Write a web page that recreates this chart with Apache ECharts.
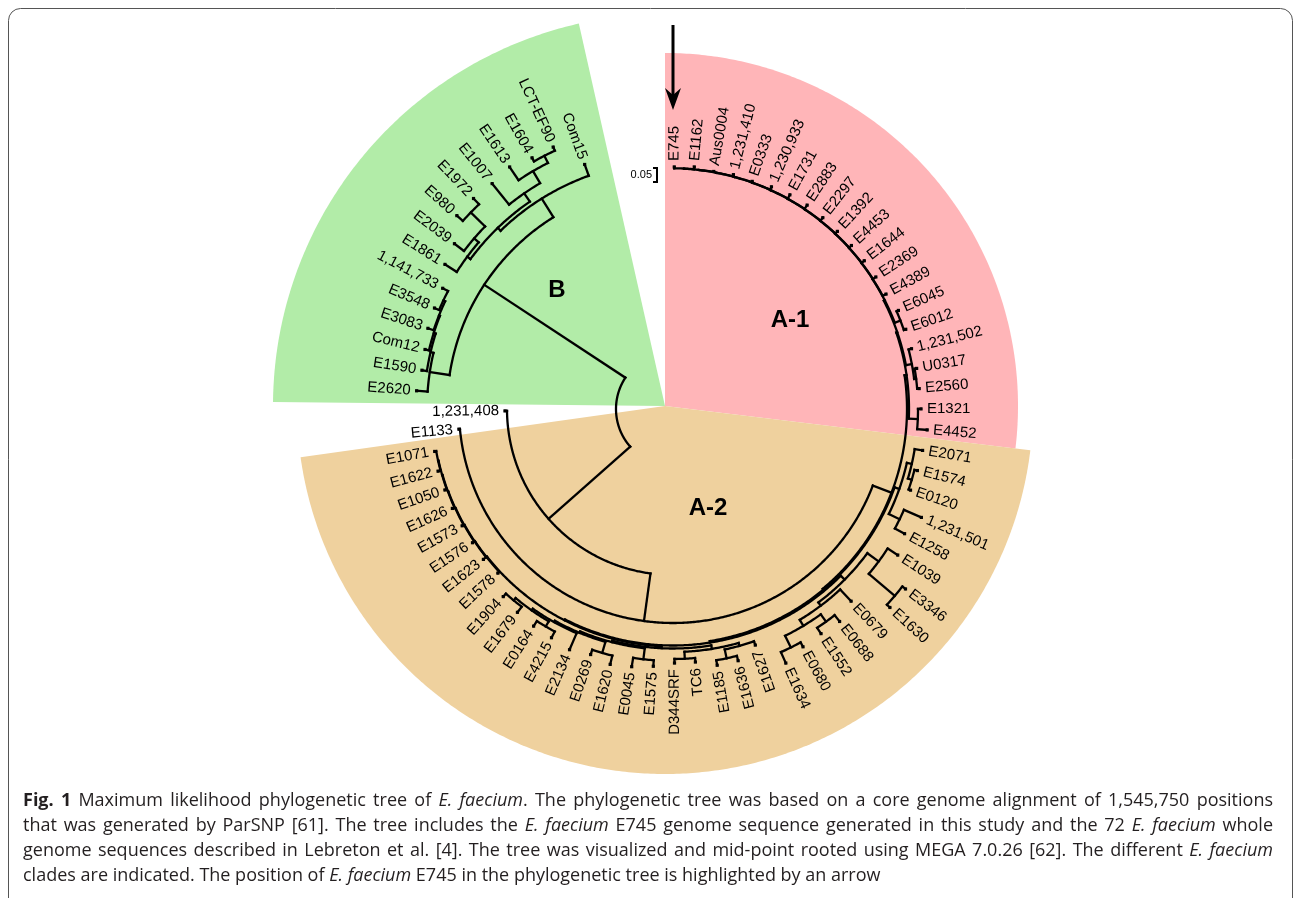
<!DOCTYPE html>
<html><head><meta charset="utf-8">
<script src="https://cdn.jsdelivr.net/npm/echarts/dist/echarts.min.js"></script>
<style>html,body{margin:0;padding:0;background:#fff;overflow:hidden}#c{width:1293px;height:898px}</style>
</head><body><div id="c"></div>
<script>
// ---------- DATA ----------
// leaves in clockwise order starting at the top (E745)
const leaves = [
 'E745','E1162','Aus0004','1,231,410','E0333','1,230,933','E1731','E2883','E2297','E1392',
 'E4453','E1644','E2369','E4389','E6045','E6012','1,231,502','U0317','E2560','E1321','E4452',
 'E2071','E1574','E0120','1,231,501','E1258','E1039','E3346','E1630','E0679','E0688',
 'E1552','E0680','E1634','E1627','E1636','E1185','TC6','D344SRF','E1575','E0045',
 'E1620','E0269','E2134','E4215','E0164','E1679','E1904','E1578','E1623','E1576',
 'E1573','E1626','E1050','E1622','E1071','E1133','1,231,408',
 'E2620','E1590','Com12','E3083','E3548','1,141,733','E1861','E2039','E980','E1972',
 'E1007','E1613','E1604','LCT-EF90','Com15'
];
// distance of each tip from the root (tree units, 0.05 = 14 units)
const tipDepth = [
 242,243,241,242,241,243,244,244,243,242,
 242,242,242,242,246,246,246,247,247,248,255,
 253,252,251,271,263,268,294,294,262,270,
 269,271,278,250,260,260,254,254,258,261,
 263,259,262,259,258,256,253,240,242,241,
 241,242,242,243,242,215,168,
 257,254,255,258,259,260,270,274,290,290,
 289,292,288,288,260
];
// internal nodes: [id, depth, children]
const clades = [
 ['a1n1',240.7,['E745','E1162']],
 ['a1n2',240.5,['a1n1','Aus0004']],
 ['a1n3',240.3,['a1n2','1,231,410']],
 ['a1n4',240.1,['a1n3','E0333']],
 ['a1n5',239.9,['a1n4','1,230,933']],
 ['a1n6',239.7,['a1n5','E1731']],
 ['a1n7',239.5,['a1n6','E2883']],
 ['a1n8',239.3,['a1n7','E2297']],
 ['a1n9',239.1,['a1n8','E1392']],
 ['a1n10',238.9,['a1n9','E4453']],
 ['a1n11',238.7,['a1n10','E1644']],
 ['a1n12',238.5,['a1n11','E2369']],
 ['a1n13',238.3,['a1n12','E4389']],
 ['a1p1',244,['E6045','E6012']],
 ['a1b',238,['a1n13','a1p1']],
 ['a1p2',245,['U0317','E2560']],
 ['a1p3',243,['1,231,502','a1p2']],
 ['a1a',237,['a1b','a1p3']],
 ['a1p4',245,['E1321','E4452']],
 ['A1',236,['a1a','a1p4']],
 ['g1b',249,['E1574','E0120']],
 ['g1',245,['E2071','g1b']],
 ['g2',252,['1,231,501','E1258']],
 ['pg12',240,['g1','g2']],
 ['g3b',290,['E3346','E1630']],
 ['g3',256,['E1039','g3b']],
 ['g5a',262,['E0688','E1552']],
 ['g5b',266,['E0680','E1634']],
 ['g5',253,['g5a','g5b']],
 ['pg45',246,['E0679','g5']],
 ['pg35',242,['g3','pg45']],
 ['q1a',255,['E1636','E1185']],
 ['q1',246,['E1627','q1a']],
 ['q2',250,['TC6','D344SRF']],
 ['QL',243,['q1','q2']],
 ['r1',252,['E1575','E0045']],
 ['r2a',254,['E1620','E0269']],
 ['r4a',252,['E4215','E0164']],
 ['r4b',249,['E1679','E1904']],
 ['r4',246,['r4a','r4b']],
 ['r3',244,['E2134','r4']],
 ['r2',242.5,['r2a','r3']],
 ['QR',241,['r1','r2']],
 ['Qa',239.5,['QL','QR']],
 ['l7',240.5,['E1622','E1071']],
 ['l6',240.1,['E1050','l7']],
 ['l5',239.7,['E1626','l6']],
 ['l4',239.3,['E1573','l5']],
 ['l3',238.9,['E1576','l4']],
 ['l2',238.5,['E1623','l3']],
 ['L',238.1,['E1578','l2']],
 ['Q',237.5,['Qa','L']],
 ['A2b',236.5,['pg35','Q']],
 ['A2',235,['pg12','A2b']],
 ['X',234,['A1','A2']],
 ['Ap',214,['X','E1133']],
 ['A',166,['Ap','1,231,408']],
 ['b1d',254,['E3548','1,141,733']],
 ['b1c',252,['E3083','b1d']],
 ['b1b',251,['Com12','b1c']],
 ['b1a',249,['E1590','b1b']],
 ['B1',246,['E2620','b1a']],
 ['b2e',282,['E980','E1972']],
 ['b2d',262,['E2039','b2e']],
 ['b2c',256,['E1861','b2d']],
 ['b2h',284,['E1604','LCT-EF90']],
 ['b2g',276,['E1613','b2h']],
 ['b2f',262,['E1007','b2g']],
 ['b2a',252,['b2c','b2f']],
 ['B2',248,['b2a','Com15']],
 ['B',226,['B1','B2']],
 ['root',57,['A','B']]
];
// clade sectors (bearing in degrees clockwise from north, reach in tree units)
const sectorNames = ['A-1','A-2','B'];
const sectorFrom  = [0, 96.9, 270.6];
const sectorTo    = [96.9, 262, 347.3];
const sectorReach = [353, 368, 392];
// caption (*bold*, _italic_)
const captionLines = [
 '*Fig. 1* Maximum likelihood phylogenetic tree of _E. faecium_. The phylogenetic tree was based on a core genome alignment of 1,545,750 positions',
 'that was generated by ParSNP [61]. The tree includes the _E. faecium_ E745 genome sequence generated in this study and the 72 _E. faecium_ whole',
 'genome sequences described in Lebreton et al. [4]. The tree was visualized and mid-point rooted using MEGA 7.0.26 [62]. The different _E. faecium_',
 'clades are indicated. The position of _E. faecium_ E745 in the phylogenetic tree is highlighted by an arrow'
];

// ---------- LAYOUT ----------
const firstBearing = 0.3, leafStep = 4.72;
const angle = {}, depth = {}, kids = {};
leaves.forEach((n,i)=>{ angle[n] = firstBearing + i*leafStep; depth[n] = tipDepth[i]; });
clades.forEach(([id,d,ch])=>{ depth[id]=d; kids[id]=ch; });
function ang(id){
  if (angle[id] !== undefined) return angle[id];
  const ch = kids[id];
  const a = (ang(ch[0]) + ang(ch[ch.length-1]))/2;
  angle[id] = a; return a;
}
const segs = [];
clades.forEach(([id,d,ch])=>{
  const as = ch.map(ang);
  segs.push({kind:'arc', r:d, a0:Math.min(...as), a1:Math.max(...as)});
  ch.forEach(c=>segs.push({kind:'rad', r0:d, r1:depth[c], a:ang(c)}));
});
leaves.forEach((n,i)=>segs.push({kind:'tip', r:tipDepth[i], a:angle[n]}));

const sectorColors = {'A-1':'#FFB5B8','A-2':'#EFD19E','B':'#B2ECA8'};
const LABEL_FONT = '15px "Liberation Sans", Arial, sans-serif';

// ---------- CAPTION (justified) ----------
const CAP_SIZE = 18, CAP_LEFT = 23, CAP_RIGHT = 1273, CAP_TOP = 801, CAP_LH = 24.8;
const measureCtx = document.createElement('canvas').getContext('2d');
function capFont(st){ return (st.i?'italic ':'') + (st.b?'bold ':'') + CAP_SIZE + 'px "Open Sans", sans-serif'; }
function textW(t, st){ measureCtx.font = capFont(st); return measureCtx.measureText(t).width; }
const captionGraphics = [];
captionLines.forEach((line, li)=>{
  const words = []; let cur = []; let run = ''; const st = {b:false, i:false};
  const flushRun = ()=>{ if (run){ cur.push({t:run, b:st.b, i:st.i}); run=''; } };
  for (const ch of line){
    if (ch==='*'){ flushRun(); st.b=!st.b; }
    else if (ch==='_'){ flushRun(); st.i=!st.i; }
    else if (ch===' '){ flushRun(); if (cur.length) words.push(cur); cur=[]; }
    else run += ch;
  }
  flushRun(); if (cur.length) words.push(cur);
  const ww = words.map(w=>w.reduce((s,r)=>s+textW(r.t,r),0));
  const total = ww.reduce((a,b)=>a+b,0);
  const justify = li < captionLines.length-1;
  const gap = justify ? (CAP_RIGHT-CAP_LEFT-total)/(words.length-1) : textW(' ',{});
  let x = CAP_LEFT; const y = CAP_TOP + li*CAP_LH;
  words.forEach((w,wi)=>{
    let xx = x;
    w.forEach(r=>{
      captionGraphics.push({type:'text', z:10, x:xx, y:y, style:{text:r.t, font:capFont(r), fill:'#231f20',
        align:'left', verticalAlign:'middle', textAlign:'left', textVerticalAlign:'middle'}});
      xx += textW(r.t, r);
    });
    x += ww[wi] + gap;
  });
});

const chart = echarts.init(document.getElementById('c'), null, {renderer:'canvas'});
const axisOff = {show:false, axisLine:{show:false}, axisTick:{show:false}, axisLabel:{show:false}, splitLine:{show:false}};
const cladeTitle = (t,x,y)=>({type:'text', z:10, x:x, y:y, style:{text:t, font:'bold 24px "Liberation Sans", Arial, sans-serif', fill:'#000', align:'center', verticalAlign:'middle', textAlign:'center', textVerticalAlign:'middle'}});
const option = {
  animation:false,
  backgroundColor:'#fff',
  polar:[{center:[665,406], radius:400},{center:[673,409], radius:400}],
  angleAxis:[
    Object.assign({polarIndex:0, type:'value', min:0, max:360, startAngle:90, clockwise:true}, axisOff),
    Object.assign({polarIndex:1, type:'value', min:0, max:360, startAngle:90, clockwise:true}, axisOff)
  ],
  radiusAxis:[
    Object.assign({polarIndex:0, type:'value', min:0, max:400}, axisOff),
    Object.assign({polarIndex:1, type:'value', min:0, max:400}, axisOff)
  ],
  series:[
    { type:'custom', coordinateSystem:'polar', polarIndex:0, z:1, silent:true,
      data: sectorNames.map((n,i)=>[sectorReach[i], sectorFrom[i], i]),
      renderItem:(params, api)=>{
        const i = params.dataIndex;
        const a0 = sectorFrom[i], a1 = sectorTo[i], r = sectorReach[i];
        const pts = [api.coord([0, a0])];
        const n = Math.ceil((a1-a0)/0.5);
        for (let k=0;k<=n;k++) pts.push(api.coord([r, a0+(a1-a0)*k/n]));
        return {type:'polygon', shape:{points:pts}, style:{fill:sectorColors[sectorNames[i]], stroke:null}};
      }
    },
    { type:'custom', coordinateSystem:'polar', polarIndex:1, z:3, silent:true,
      data: segs.map((s,i)=>[s.r!==undefined?s.r:s.r1, s.a!==undefined?s.a:s.a0, i]),
      renderItem:(params, api)=>{
        const s = segs[params.dataIndex];
        if (s.kind==='tip'){
          const p = api.coord([s.r, s.a]);
          return {type:'rect', shape:{x:p[0]-1.6, y:p[1]-1.6, width:3.2, height:3.2}, style:{fill:'#000'}};
        }
        let pts;
        if (s.kind==='arc'){
          const n = Math.max(2, Math.ceil(Math.abs(s.a1-s.a0)/0.4));
          pts = [];
          for (let k=0;k<=n;k++) pts.push(api.coord([s.r, s.a0+(s.a1-s.a0)*k/n]));
        } else {
          pts = [api.coord([s.r0, s.a]), api.coord([s.r1, s.a])];
        }
        return {type:'polyline', shape:{points:pts}, style:{stroke:'#000', lineWidth:2.3, fill:null, lineCap:'square', lineJoin:'round'}};
      }
    },
    { type:'custom', coordinateSystem:'polar', polarIndex:1, z:4, silent:true,
      data: leaves.map((n,i)=>[tipDepth[i], angle[n], i]),
      renderItem:(params, api)=>{
        const i = params.dataIndex;
        const a = angle[leaves[i]];
        const p = api.coord([tipDepth[i]+6, a]);
        const flip = a > 158 && a < 352;
        let rot = (90 - a) * Math.PI/180;
        if (flip) rot += Math.PI;
        const al = flip ? 'right' : 'left';
        return {type:'text', x:p[0], y:p[1], rotation:rot,
          style:{text:leaves[i], fill:'#000', font:LABEL_FONT, align:al, verticalAlign:'middle', textAlign:al, textVerticalAlign:'middle'}};
      }
    }
  ],
  graphic:[
    {type:'rect', z:0, shape:{x:8.5, y:8.5, width:1284, height:930, r:12}, style:{fill:null, stroke:'#555', lineWidth:1}},
    cladeTitle('A-1',790,320),
    cladeTitle('A-2',708,508),
    cladeTitle('B',557,290),
    {type:'line', z:10, shape:{x1:673, y1:25, x2:673, y2:100}, style:{stroke:'#000', lineWidth:3}},
    {type:'polygon', z:10, shape:{points:[[673,110],[665,88],[673,95],[681,88]]}, style:{fill:'#000'}},
    {type:'polyline', z:10, shape:{points:[[653,168],[657,168],[657,182],[653,182]]}, style:{stroke:'#000', lineWidth:2, fill:null}},
    {type:'text', z:10, x:652, y:175, style:{text:'0.05', font:'11px "Liberation Sans", Arial, sans-serif', fill:'#000', align:'right', verticalAlign:'middle', textAlign:'right', textVerticalAlign:'middle'}}
  ].concat(captionGraphics)
};
chart.setOption(option);
</script></body></html>
